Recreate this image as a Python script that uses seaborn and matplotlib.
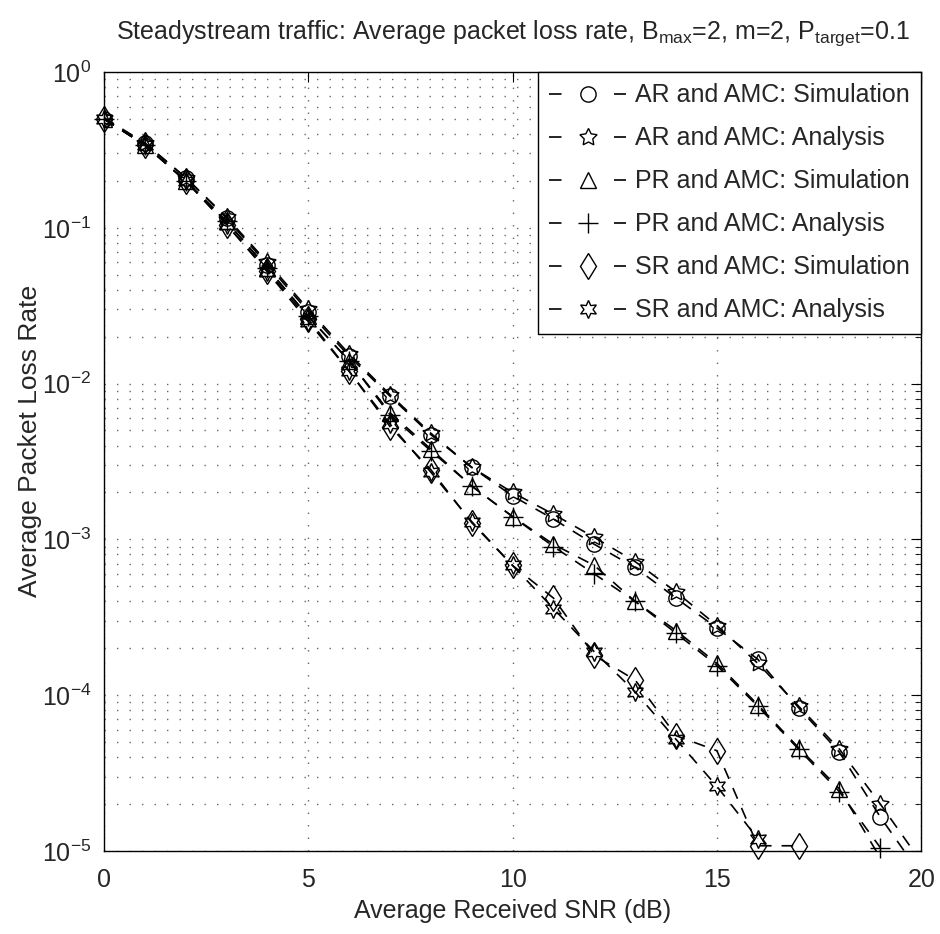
import matplotlib
matplotlib.use("Agg")
import matplotlib.pyplot as plt
import seaborn as sns
from matplotlib.ticker import LogLocator, NullFormatter

snr = list(range(0, 21))

ar_sim = [0.5, 0.35, 0.21, 0.115, 0.058, 0.029, 0.015, 0.0083, 0.0047, 0.0029,
          0.0019, 0.00135, 0.00093, 0.00066, 0.00042, 0.00027, 0.00017, 8.3e-5,
          4.3e-5, 1.65e-5, 7e-6]
ar_ana = [0.51, 0.35, 0.21, 0.117, 0.06, 0.03, 0.0155, 0.0085, 0.0048, 0.0029,
          0.002, 0.00145, 0.00103, 0.00072, 0.00046, 0.00028, 0.00016, 8.5e-5,
          4.5e-5, 2.0e-5, 8.5e-6]
pr_sim = [0.5, 0.34, 0.2, 0.11, 0.055, 0.027, 0.014, 0.0065, 0.0038, 0.0022,
          0.0014, 0.00093, 0.00068, 0.00040, 0.00026, 0.00016, 8.7e-5, 4.6e-5,
          2.5e-5, 9e-6]
pr_ana = [0.5, 0.34, 0.2, 0.11, 0.055, 0.027, 0.014, 0.0063, 0.0037, 0.0022,
          0.0014, 0.0009, 0.0006, 0.0004, 0.00025, 0.000155, 8.5e-5, 4.5e-5,
          2.4e-5, 1.05e-5]
sr_sim = [0.5, 0.34, 0.2, 0.105, 0.053, 0.026, 0.012, 0.0053, 0.0028, 0.00128,
          0.00068, 0.00042, 0.00018, 0.000125, 5.5e-5, 4.4e-5, 1.08e-5, 1.08e-5]
sr_ana = [0.5, 0.34, 0.2, 0.105, 0.052, 0.025, 0.012, 0.0055, 0.0027, 0.0013,
          0.00068, 0.00036, 0.00019, 0.000105, 5.2e-5, 2.6e-5, 1.2e-5]

labels = ["AR and AMC: Simulation", "AR and AMC: Analysis",
          "PR and AMC: Simulation", "PR and AMC: Analysis",
          "SR and AMC: Simulation", "SR and AMC: Analysis"]
series = [ar_sim, ar_ana, pr_sim, pr_ana, sr_sim, sr_ana]
markers = ["o", (5, 1, 0), "^", "+", "d", (6, 1, 0)]
sizes = [11, 13, 12, 14, 13, 13]

sns.set_style("white")
plt.rcParams["font.family"] = ["Liberation Sans", "DejaVu Sans"]
plt.rcParams["mathtext.default"] = "regular"

fig = plt.figure(figsize=(9.4, 9.34), dpi=100)
ax = fig.add_axes([0.1106, 0.0889, 0.8694, 0.834])

for name, vals, m, s in zip(labels, series, markers, sizes):
    # lines that run off the bottom stay clipped, the rest keep whole markers
    clip = min(vals) < 1e-5
    sns.lineplot(x=snr[:len(vals)], y=vals, ax=ax, color="k",
                 linestyle=(0, (7, 6)), linewidth=1.2, marker=m, markersize=s,
                 mfc="none", mec="k", mew=1.0, label=name, errorbar=None,
                 clip_on=clip)

ax.set_yscale("log")
ax.set_xlim(0, 20)
ax.set_ylim(1e-5, 1)
ax.set_xticks([0, 5, 10, 15, 20])
ax.yaxis.set_major_locator(LogLocator(base=10, numticks=10))
ax.yaxis.set_minor_locator(LogLocator(base=10, subs=range(2, 10), numticks=20))
ax.yaxis.set_minor_formatter(NullFormatter())

ax.grid(True, which="major", axis="both", linestyle=(0, (1, 8)), color="0.4", linewidth=1.0)
ax.grid(True, which="minor", axis="y", linestyle=(0, (1, 8)), color="0.4", linewidth=1.0)
ax.tick_params(which="both", direction="in", top=True, right=True, labelsize=18,
               color="k")
ax.tick_params(which="major", length=7)
ax.tick_params(which="minor", length=4)
ax.tick_params(axis="x", pad=12)
ax.tick_params(axis="y", pad=9)
for sp in ax.spines.values():
    sp.set_visible(True)
    sp.set_color("k")
    sp.set_linewidth(1.0)

ax.set_xlabel("Average Received SNR (dB)", fontsize=18, labelpad=5)
ax.set_ylabel("Average Packet Loss Rate", fontsize=19)
ax.yaxis.set_label_coords(-0.076, 0.527)
ax.set_title(r"Steadystream traffic: Average packet loss rate, B$_{max}$=2, m=2, "
             r"P$_{target}$=0.1", fontsize=18, pad=24)

leg = ax.legend(loc="upper right", borderaxespad=0, fancybox=False, framealpha=1,
                edgecolor="k", fontsize=18, handlelength=3.1, numpoints=1,
                labelspacing=0.76, handletextpad=0.35, borderpad=0.45)
leg.get_frame().set_linewidth(1.0)
# legend handles: short dash, marker, short dash
for h in leg.get_lines():
    h.set_linestyle((0, (7.5, 31.5)))

fig.savefig("out.png", dpi=100)
